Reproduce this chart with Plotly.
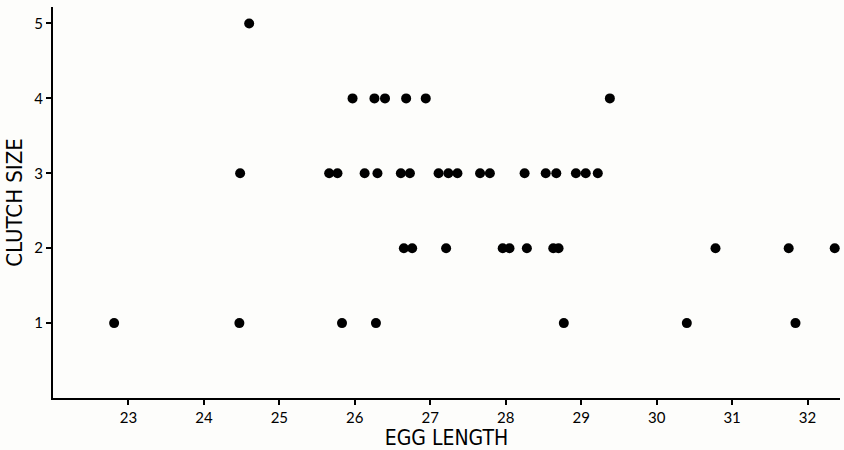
import plotly.graph_objects as go

egg_length_1 = [22.81, 24.47, 25.83, 26.28, 28.77, 30.40, 31.84]
egg_length_2 = [26.65, 26.76, 27.21, 27.96, 28.05, 28.28, 28.63, 28.70, 30.78, 31.75, 32.36]
egg_length_3 = [24.48, 25.66, 25.77, 26.13, 26.30, 26.61, 26.73, 27.11, 27.24, 27.36,
                27.66, 27.79, 28.25, 28.53, 28.67, 28.93, 29.06, 29.22]
egg_length_4 = [25.97, 26.26, 26.40, 26.68, 26.94, 29.38]
egg_length_5 = [24.60]

x_vals = egg_length_1 + egg_length_2 + egg_length_3 + egg_length_4 + egg_length_5
y_vals = ([1] * len(egg_length_1) + [2] * len(egg_length_2) + [3] * len(egg_length_3)
          + [4] * len(egg_length_4) + [5] * len(egg_length_5))

x_ticks = [23, 24, 25, 26, 27, 28, 29, 30, 31, 32]
y_ticks = [1, 2, 3, 4, 5]

fig = go.Figure(go.Scatter(
    x=x_vals, y=y_vals, mode="markers",
    marker=dict(color="black", size=10, line=dict(width=0)),
    showlegend=False, hoverinfo="x+y"))

tick_family = "Lato, 'DejaVu Sans', sans-serif"
title_family = "'Liberation Sans Narrow', 'DejaVu Sans Condensed', Lato, sans-serif"
fig.update_layout(
    width=844, height=450,
    margin=dict(l=53, r=4, t=7, b=52),
    paper_bgcolor="#fdfdfb", plot_bgcolor="#fdfdfb",
    font=dict(family=tick_family, color="black", size=15),
)
fig.update_xaxes(
    range=[22.0, 32.43], tickvals=x_ticks, ticktext=[str(t) for t in x_ticks],
    showgrid=False, zeroline=False, showline=True, linecolor="black", linewidth=2,
    ticks="outside", ticklen=5, tickwidth=1.5, tickcolor="black",
    tickfont=dict(size=15),
    title=dict(text="EGG LENGTH", font=dict(size=21, family=title_family), standoff=4),
)
fig.update_yaxes(
    range=[0, 5.22], tickvals=y_ticks, ticktext=[str(t) for t in y_ticks],
    showgrid=False, zeroline=False, showline=True, linecolor="black", linewidth=2,
    ticks="outside", ticklen=5, tickwidth=1.5, tickcolor="black",
    tickfont=dict(size=15),
    title=dict(text="CLUTCH SIZE", font=dict(size=22, family=title_family), standoff=6),
)

fig.write_html("out.html")
